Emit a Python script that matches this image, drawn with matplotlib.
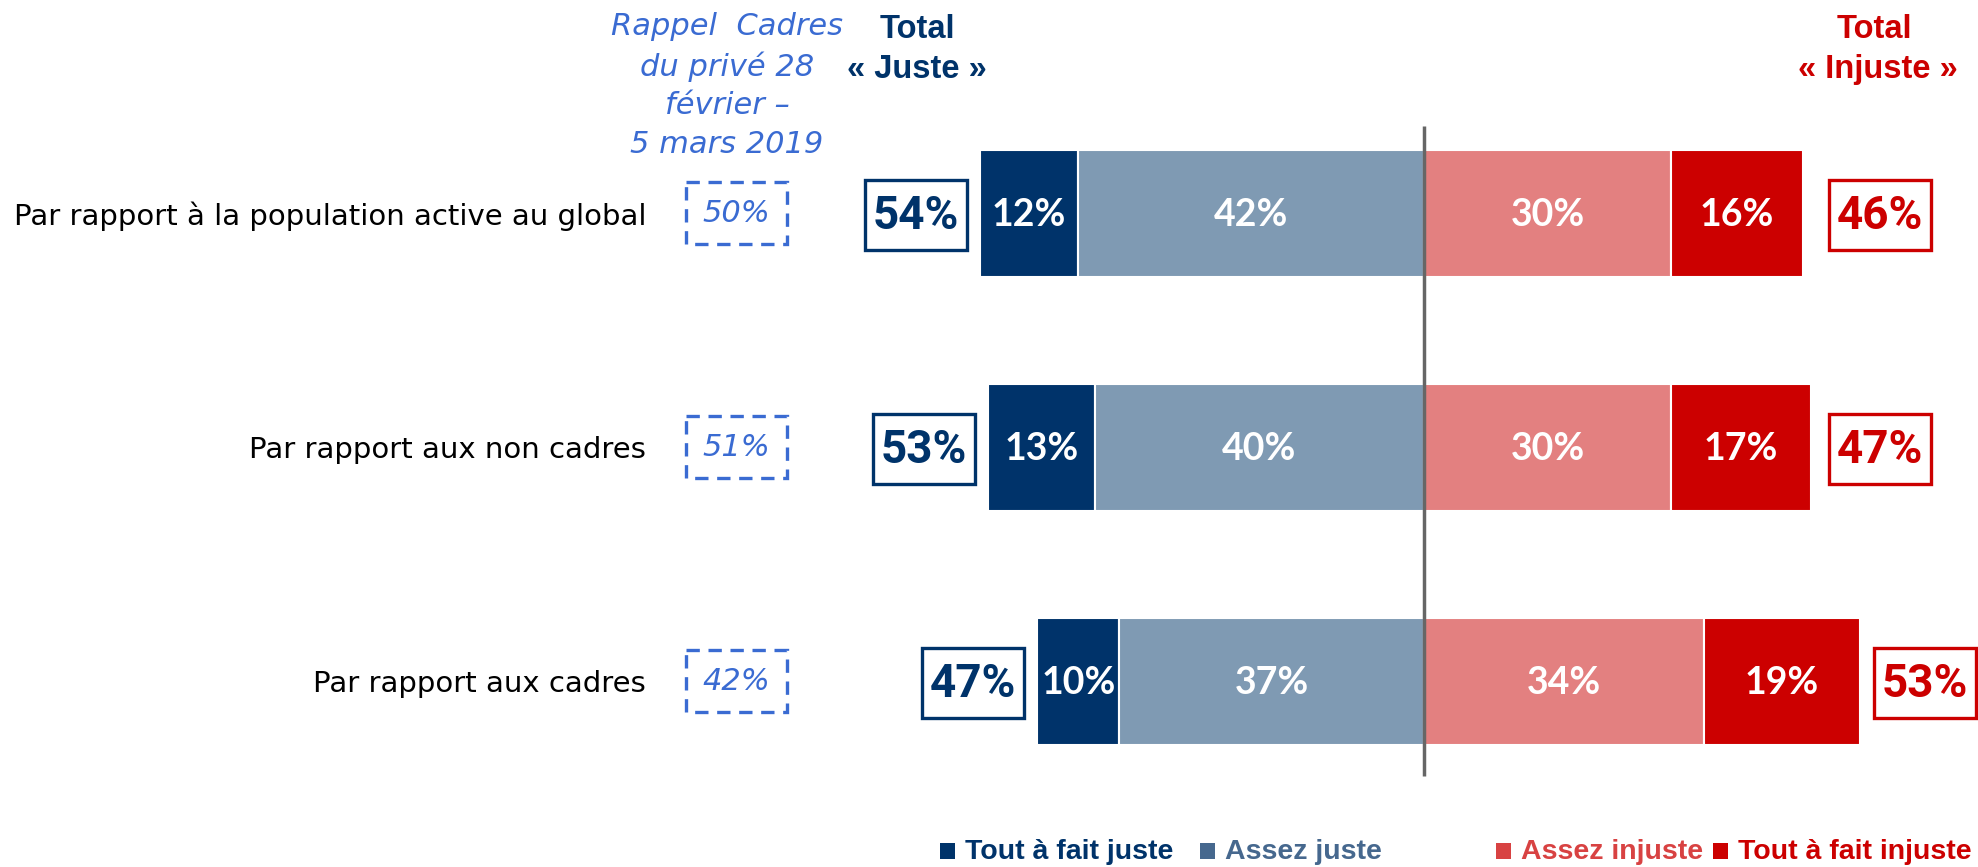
import matplotlib
matplotlib.use("Agg")
import matplotlib.pyplot as plt
from matplotlib.patches import Rectangle

# ---------------- data ----------------
categories = ["Par rapport à la population active au global",
              "Par rapport aux non cadres",
              "Par rapport aux cadres"]
tout_juste = [12, 13, 10]
assez_juste = [42, 40, 37]
assez_injuste = [30, 30, 34]
tout_injuste = [16, 17, 19]
total_juste = [54, 53, 47]
total_injuste = [46, 47, 53]
rappel = [50, 51, 42]
legend_labels = ["Tout à fait juste", "Assez juste", "Assez injuste", "Tout à fait injuste"]
rappel_title = "Rappel  Cadres\ndu privé 28\nfévrier –\n5 mars 2019"

# ---------------- style ----------------
C_NAVY = "#00336A"
C_AJ = "#7F9AB3"
C_AI = "#E38080"
C_RED = "#CC0000"
C_LEG = ["#00336A", "#46688E", "#D84242", "#CC0000"]
C_BLUE = "#3A6BD2"

W, H = 1978, 867
X0 = 1424.0      # pixel of the 0 line
PPU = 8.23       # pixels per percentage point

fig = plt.figure(figsize=(W / 100, H / 100), dpi=100)
ax = fig.add_axes([0, 0, 1, 1])
ax.set_xlim(-X0 / PPU, (W - X0) / PPU)
ax.set_ylim(H, 0)
ax.axis("off")

def px(xp):
    return (xp - X0) / PPU

row_y = [213, 447, 681]
bar_h = 127

left_tj = [-(a + b) for a, b in zip(tout_juste, assez_juste)]
left_aj = [-b for b in assez_juste]
ax.barh(row_y, tout_juste, left=left_tj, height=bar_h, color=C_NAVY, edgecolor="white", linewidth=1.5)
ax.barh(row_y, assez_juste, left=left_aj, height=bar_h, color=C_AJ, edgecolor="white", linewidth=1.5)
ax.barh(row_y, assez_injuste, left=0, height=bar_h, color=C_AI, edgecolor="white", linewidth=1.5)
ax.barh(row_y, tout_injuste, left=assez_injuste, height=bar_h, color=C_RED, edgecolor="white", linewidth=1.5)

# center line
ax.plot([0, 0], [126, 776], color="#666666", lw=2.5, solid_capstyle="butt", zorder=5)

lab_kw = dict(ha="center", va="center", color="white", fontsize=27,
              fontweight="bold", family=["Lato", "DejaVu Sans"])
for i, y in enumerate(row_y):
    ax.text(left_tj[i] + tout_juste[i] / 2, y + 2, f"{tout_juste[i]}%", **lab_kw)
    ax.text(left_aj[i] + assez_juste[i] / 2, y + 2, f"{assez_juste[i]}%", **lab_kw)
    ax.text(assez_injuste[i] / 2, y + 2, f"{assez_injuste[i]}%", **lab_kw)
    ax.text(assez_injuste[i] + tout_injuste[i] / 2, y + 2, f"{tout_injuste[i]}%", **lab_kw)

# category labels
for i, y in enumerate(row_y):
    ax.text(px(646), y + 3, categories[i], ha="right", va="center",
            fontsize=21, color="black", family=["DejaVu Sans"])

# totals boxes
bw, bh = 102 / PPU, 70
for i, y in enumerate(row_y):
    # left
    right_edge = -(total_juste[i]) - 13 / PPU
    ax.add_patch(Rectangle((right_edge - bw, y - bh / 2 + 2), bw, bh, fill=False,
                           edgecolor=C_NAVY, lw=2.4, zorder=6))
    ax.text(right_edge - bw / 2, y + 3, f"{total_juste[i]}%", ha="center", va="center",
            fontsize=33, fontweight="bold", color=C_NAVY, family=["Roboto", "DejaVu Sans"])
    # right
    left_edge = max(px(1829), total_injuste[i] + 14 / PPU)
    ax.add_patch(Rectangle((left_edge, y - bh / 2 + 2), bw, bh, fill=False,
                           edgecolor=C_RED, lw=2.4, zorder=6))
    ax.text(left_edge + bw / 2, y + 3, f"{total_injuste[i]}%", ha="center", va="center",
            fontsize=33, fontweight="bold", color=C_RED, family=["Roboto", "DejaVu Sans"])

# rappel dashed boxes
for i, y in enumerate(row_y):
    ax.add_patch(Rectangle((px(686), y - 31), 101 / PPU, 62, fill=False,
                           edgecolor=C_BLUE, lw=2.4, linestyle=(0, (4, 2.6)), zorder=6))
    ax.text(px(736), y + 1, f"{rappel[i]}%", ha="center", va="center",
            fontsize=22, style="italic", color=C_BLUE, family=["DejaVu Sans"])

ax.text(px(727), 12, rappel_title, ha="center", va="top", fontsize=22,
        style="italic", color=C_BLUE, linespacing=1.42, family=["DejaVu Sans"])

# headers
hdr_kw = dict(ha="center", va="baseline", fontsize=23.5, fontweight="bold",
              family=["Liberation Sans", "DejaVu Sans"])
ax.text(px(917), 38, "Total", color=C_NAVY, **hdr_kw)
ax.text(px(917), 78, "« Juste »", color=C_NAVY, **hdr_kw)
ax.text(px(1874), 38, "Total", color=C_RED, **hdr_kw)
ax.text(px(1878), 78, "« Injuste »", color=C_RED, **hdr_kw)

# legend
leg_sq_x = [940, 1200, 1496, 1713]
leg_y = 851
for j, lab in enumerate(legend_labels):
    ax.add_patch(Rectangle((px(leg_sq_x[j]), leg_y - 8), 15 / PPU, 16,
                           facecolor=C_LEG[j], edgecolor="none"))
    ax.text(px(leg_sq_x[j] + 25), leg_y + 1, lab, ha="left", va="center",
            fontsize=20.5, fontweight="bold", color=C_LEG[j],
            family=["Liberation Sans", "DejaVu Sans"])

fig.savefig("out.png", dpi=100)
